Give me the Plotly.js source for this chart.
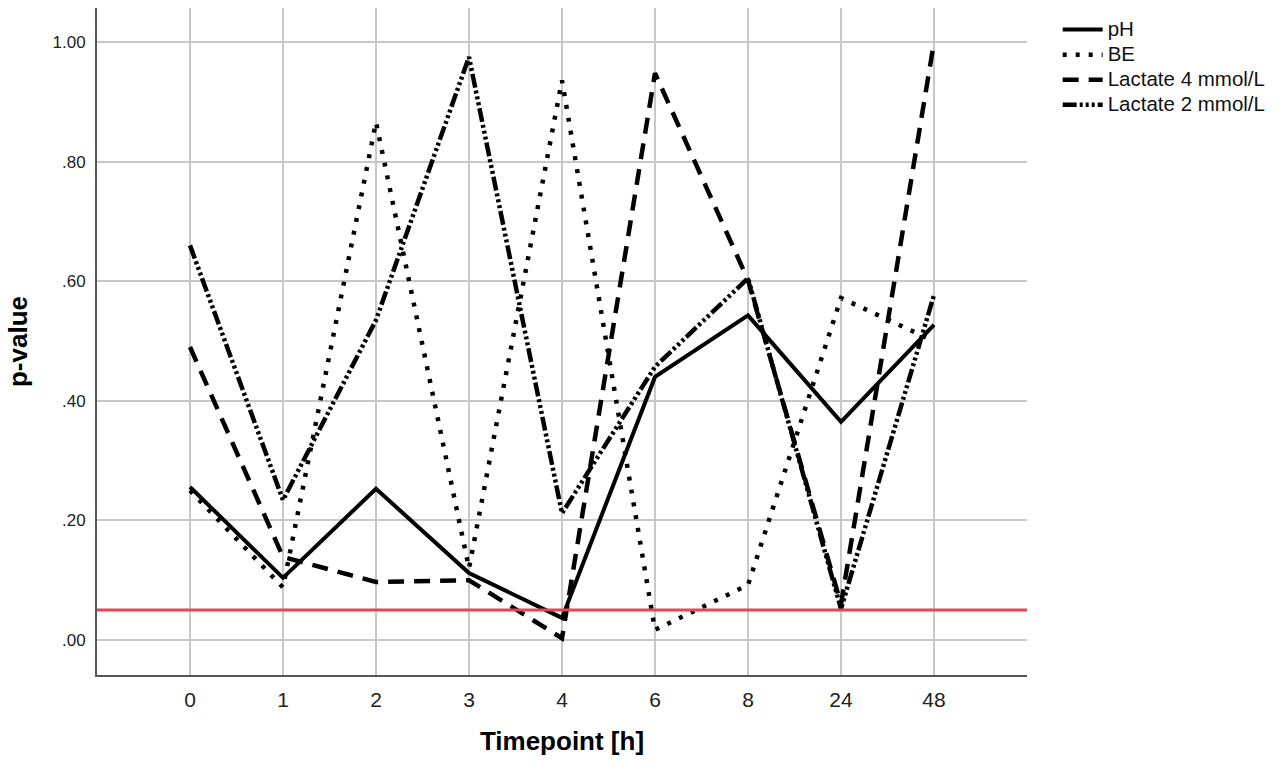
<!DOCTYPE html>
<html>
<head>
<meta charset="utf-8">
<script src="https://cdn.plot.ly/plotly-3.0.1.min.js"></script>
<style>html,body{margin:0;padding:0;background:#fff;}#chart{width:1287px;height:767px;}</style>
</head>
<body>
<div id="chart"></div>
<script>
const timepoints = ['0','1','2','3','4','6','8','24','48'];
const pH        = [0.256, 0.104, 0.253, 0.112, 0.037, 0.440, 0.543, 0.365, 0.527];
const BE        = [0.250, 0.088, 0.866, 0.120, 0.936, 0.017, 0.092, 0.572, 0.500];
const lactate4  = [0.490, 0.139, 0.097, 0.100, 0.003, 0.948, 0.602, 0.060, 1.000];
const lactate2  = [0.660, 0.234, 0.535, 0.975, 0.212, 0.457, 0.605, 0.052, 0.577];
const seriesNames = ['pH', 'BE', 'Lactate 4 mmol/L', 'Lactate 2 mmol/L'];
const threshold = 0.05;
const yTickVals = [0, 0.2, 0.4, 0.6, 0.8, 1.0];
const yTickText = ['.00', '.20', '.40', '.60', '.80', '1.00'];

function legendLabel(s) { return '<span style="font-size:20.5px">' + s + '</span>'; }

const base = {type: 'scatter', mode: 'lines', x: timepoints, hoverinfo: 'skip'};
const traces = [
  Object.assign({}, base, {name: legendLabel(seriesNames[0]), y: pH, line: {color: '#000', width: 4, dash: 'solid'}}),
  Object.assign({}, base, {name: legendLabel(seriesNames[1]), y: BE, line: {color: '#000', width: 4.5, dash: '4px,9px'}}),
  Object.assign({}, base, {name: legendLabel(seriesNames[2]), y: lactate4, line: {color: '#000', width: 4.5, dash: '16px,10px'}}),
  Object.assign({}, base, {name: legendLabel(seriesNames[3]), y: lactate2, line: {color: '#000', width: 4.5, dash: '14px,3px,3px,3px,3px,3px,3px,3px'}})
];

const layout = {
  width: 1287, height: 767,
  margin: {l: 97, r: 260, t: 8, b: 92, autoexpand: false},
  paper_bgcolor: '#fff', plot_bgcolor: '#fff',
  font: {family: 'Liberation Sans, Arial, sans-serif', color: '#000'},
  showlegend: true,
  legend: {x: 1.033, y: 0.994, xanchor: 'left', yanchor: 'top', font: {size: 17, color: '#111'},
           tracegroupgap: 0, itemwidth: 40, bgcolor: 'rgba(0,0,0,0)'},
  xaxis: {
    type: 'category', range: [-1, 9],
    showgrid: true, gridcolor: '#c8c8c8', gridwidth: 2,
    showline: true, linecolor: '#555', linewidth: 2,
    ticks: 'outside', ticklen: 5, tickcolor: 'rgba(0,0,0,0)',
    tickfont: {size: 21, color: '#222'},
    zeroline: false,
    title: {text: '<b>Timepoint [h]</b>', font: {size: 26, color: '#000'}, standoff: 22}
  },
  yaxis: {
    range: [-0.0585, 1.057],
    tickvals: yTickVals, ticktext: yTickText,
    showgrid: true, gridcolor: '#c8c8c8', gridwidth: 2,
    showline: true, linecolor: '#555', linewidth: 2,
    ticks: 'outside', ticklen: 6, tickcolor: 'rgba(0,0,0,0)',
    tickfont: {size: 17, color: '#222'},
    zeroline: false,
    title: {text: '<b>p-value</b>', font: {size: 26, color: '#000'}, standoff: 17}
  },
  shapes: [{
    type: 'line', xref: 'paper', x0: 0, x1: 1, yref: 'y', y0: threshold, y1: threshold,
    line: {color: '#e8474e', width: 3}, layer: 'above'
  }]
};

Plotly.newPlot('chart', traces, layout, {displayModeBar: false, staticPlot: true});
</script>
</body>
</html>
